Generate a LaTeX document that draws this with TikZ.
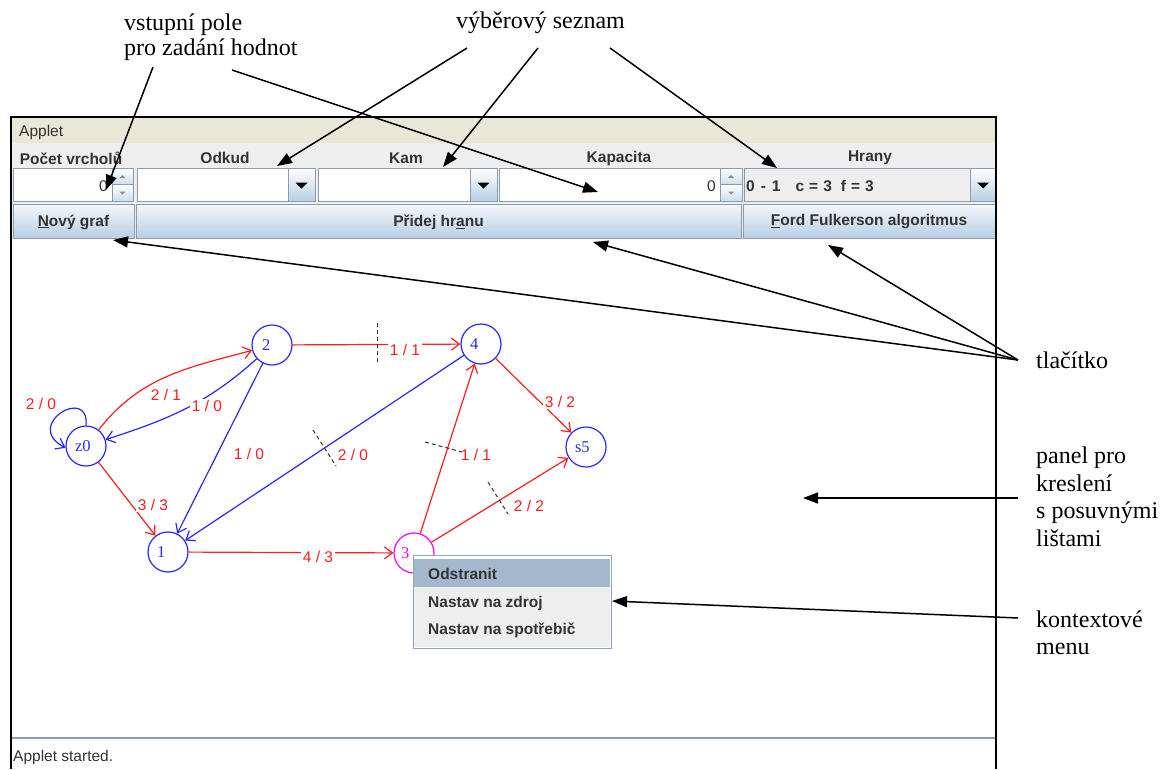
\documentclass[tikz,border=0pt]{standalone}
\usepackage{fontspec}
\setmainfont{Liberation Serif}
\setsansfont{Liberation Sans}
\usetikzlibrary{arrows.meta,calc}
\definecolor{guitext}{HTML}{333333}
\definecolor{titlebg}{RGB}{233,231,214}
\definecolor{rowbg}{HTML}{EEEEEE}
\definecolor{fieldborder}{HTML}{8C9CAE}
\definecolor{btnbot}{HTML}{B8CFE5}
\definecolor{btntop}{HTML}{F4F8FC}
\definecolor{menuhl}{HTML}{A3B8CC}
\definecolor{menuborder}{HTML}{8DA6C8}
\definecolor{gred}{RGB}{255,30,30}
\definecolor{gblue}{RGB}{40,40,255}
\definecolor{gmag}{RGB}{255,0,255}
\definecolor{sgray}{HTML}{8A8A8A}
\tikzset{
  gnode/.style={circle, draw=gblue, line width=1.2pt, minimum size=40pt, inner sep=0pt, text=gblue, font=\fontsize{16.5}{16.5}\selectfont},
  glab/.style={fill=white, inner sep=1.5pt, text=gred, font=\sffamily\fontsize{15.5}{15.5}\selectfont},
  redge/.style={draw=gred, line width=1.2pt, -{Straight Barb[length=8pt,width=12pt]}},
  bedge/.style={draw=gblue, line width=1.2pt, -{Straight Barb[length=8pt,width=12pt]}},
  cutmark/.style={draw=black!80, dash pattern=on 4pt off 3pt, line width=1pt},
  annot/.style={draw=black, line width=1.5pt, -{Triangle[length=15pt,width=11pt]}},
  anntext/.style={font=\fontsize{24}{27}\selectfont, inner sep=0pt, anchor=base west},
  guilab/.style={font=\sffamily\bfseries\fontsize{15.5}{18}\selectfont, text=guitext, inner sep=0pt},
  guireg/.style={font=\sffamily\fontsize{15.5}{18}\selectfont, text=guitext, inner sep=0pt},
  field/.style={draw=fieldborder, fill=white, line width=1pt},
  cbtn/.style={draw=fieldborder, line width=1pt, top color=white, bottom color=btnbot},
  sbtn/.style={draw=fieldborder, line width=0.8pt, top color=white, bottom color=btnbot!70},
  btn/.style={draw=fieldborder, line width=1pt, top color=btntop, bottom color=btnbot},
}
\newcommand\cbtri[1]{\fill[black] ($(#1)+(-6,-2.5)$) -- ++(12,0) -- ++(-6,6) -- cycle;}
\newcommand\uptri[1]{\fill[sgray] ($(#1)+(-3,1.5)$) -- ++(6,0) -- ++(-3,-3) -- cycle;}
\newcommand\dntri[1]{\fill[sgray] ($(#1)+(-3,-1.5)$) -- ++(6,0) -- ++(-3,3) -- cycle;}
\begin{document}
\begin{tikzpicture}[x=1pt,y=-1pt]
\useasboundingbox (0,0) rectangle (1168,769);
\fill[white] (0,0) rectangle (1168,769);
% ---------------- applet window ----------------
\fill[titlebg] (12,118) rectangle (995,143);
\fill[rowbg] (12,143) rectangle (995,239);
\fill[white] (12,239) rectangle (995,769);
\node[guireg, anchor=west] (title) at (19,132) {Applet};
% header labels
\node[guilab] (hPocet) at (71,158) {Počet vrcholů};
\node[guilab] (hOdkud) at (225,158) {Odkud};
\node[guilab] (hKam) at (406,158) {Kam};
\node[guilab] (hKap) at (619,158) {Kapacita};
\node[guilab] (hHrany) at (870,158) {Hrany};
% input row
\draw[field] (13,168.5) rectangle (112,201);
\draw[sbtn] (112,168.5) rectangle (133,184.5);
\draw[sbtn] (112,184.5) rectangle (133,201);
\uptri{122.5,176.5}
\dntri{122.5,193}
\node[guireg, anchor=east] (vPocet) at (108,186) {0};
\draw[field] (137,168.5) rectangle (288,201);
\draw[cbtn] (288,168.5) rectangle (315,201);
\cbtri{301.5,185}
\draw[field] (318,168.5) rectangle (470,201);
\draw[cbtn] (470,168.5) rectangle (497,201);
\cbtri{483.5,185}
\draw[field] (499,168.5) rectangle (720,201);
\draw[sbtn] (720,168.5) rectangle (742,184.5);
\draw[sbtn] (720,184.5) rectangle (742,201);
\uptri{731,176.5}
\dntri{731,193}
\node[guireg, anchor=east] (vKap) at (716,186) {0};
\draw[field, fill=rowbg] (744,168.5) rectangle (970,201);
\draw[cbtn] (970,168.5) rectangle (995,201);
\cbtri{983,185}
\node[guilab, anchor=west] (hrText) at (746,186) {0\hspace{6pt}-\hspace{6pt}1\hspace{15pt}c\hspace{5pt}=\hspace{5pt}3\hspace{9pt}f\hspace{5pt}=\hspace{5pt}3};
% buttons row
\draw[btn] (13,204) rectangle (134,238);
\draw[btn] (136,204) rectangle (741,238);
\draw[btn] (743,204) rectangle (995,238);
\node[guilab] (bNovy) at (73.5,222) {\underline{N}ový graf};
\node[guilab] (bHrana) at (438.5,222) {Přidej hr\underline{a}nu};
\node[guilab] (bFord) at (869,222) {\underline{F}ord Fulkerson algoritmus};
% status bar
\draw[fieldborder, line width=1.2pt] (12,738) -- (995,738);
\node[guireg, anchor=west] (status) at (13,757) {Applet started.};
% frame
\draw[black, line width=2pt] (11,769) -- (11,117) -- (996,117) -- (996,769);
% ---------------- graph ----------------
\node[gnode] (z0) at (86,446) {\makebox[0pt][l]{\kern-11pt z0}};
\node[gnode] (n2) at (272,345) {\makebox[0pt][l]{\kern-10pt 2}};
\node[gnode] (n4) at (481,344) {\makebox[0pt][l]{\kern-11pt 4}};
\node[gnode] (s5) at (586,447) {\makebox[0pt][l]{\kern-11pt s5}};
\node[gnode] (n1) at (168,552) {\makebox[0pt][l]{\kern-11pt 1}};
\node[gnode, draw=gmag, text=gmag] (n3) at (414,553) {\makebox[0pt][l]{\kern-13pt 3}};
\draw[redge] (n2) -- (n4);
\draw[redge] (z0) to[out=52,in=195] (n2);
\draw[bedge] (n2) to[out=222,in=18] (z0);
\draw[bedge] (z0.90) .. controls (90,385) and (22,425) .. (z0.185);
\draw[redge] (z0) -- (n1);
\draw[bedge] (n2) -- (n1);
\draw[bedge] (n4) -- (n1);
\draw[redge] (n1) -- (n3);
\draw[redge] (n3) -- (n4);
\draw[redge] (n4) -- (s5);
\draw[redge] (n3) -- (s5);
\node[glab] (l24) at (405,350) {1 / 1};
\node[glab] (lz2) at (166,395) {2 / 1};
\node[glab] (l2z) at (207,406) {1 / 0};
\node[glab] (lzz) at (41,404) {2 / 0};
\node[glab] (lz1) at (153,505) {3 / 3};
\node[glab] (l21) at (249,454) {1 / 0};
\node[glab] (l41) at (353,455) {2 / 0};
\node[glab] (l13) at (318,557) {4 / 3};
\node[glab] (l34) at (476,455) {1 / 1};
\node[glab] (l4s) at (560,402) {3 / 2};
\node[glab] (l3s) at (529,506) {2 / 2};
\draw[cutmark] (377,323) -- (377,362);
\draw[cutmark] (313,430) -- (336,466);
\draw[cutmark] (425,442) -- (462,452);
\draw[cutmark] (488,482) -- (508,514);
% context menu
\draw[menuborder, fill=white, line width=1pt] (413,555) rectangle (611,648);
\fill[rowbg] (414,587) rectangle (610,647);
\fill[menuhl] (414,559) rectangle (610,587);
\node[guilab, anchor=west] (mOdstr) at (428,574) {Odstranit};
\node[guilab, anchor=west] (mZdroj) at (428,603) {Nastav na zdroj};
\node[guilab, anchor=west] (mSpotr) at (428,630) {Nastav na spotřebič};
% ---------------- annotations ----------------
\node[anntext] (tVst) at (124,30) {vstupní pole};
\node[anntext] (tPro) at (124,55) {pro zadání hodnot};
\node[anntext] (tVyb) at (456,28) {výběrový seznam};
\node[anntext] (tTlac) at (1036,368) {tlačítko};
\node[anntext] (tPan1) at (1036,463) {panel pro};
\node[anntext] (tPan2) at (1036,491) {kreslení};
\node[anntext] (tPan3) at (1036,518) {s posuvnými};
\node[anntext] (tPan4) at (1036,546) {lištami};
\node[anntext] (tKon1) at (1036,627) {kontextové};
\node[anntext] (tKon2) at (1036,654) {menu};
\coordinate (sVst) at (153,67);
\coordinate (sPro) at (232,70);
\coordinate (sV1) at (467,48);
\coordinate (sV2) at (538,48);
\coordinate (sV3) at (610,48);
\coordinate (sTl) at (1018,360);
\coordinate (sPan) at (1018,498);
\coordinate (sKon) at (1018,618);
\coordinate (tSpin) at (106,190);
\coordinate (tKapF) at (598,192);
\coordinate (tOdk) at (277,166);
\coordinate (tKam) at (443,167);
\coordinate (tHr) at (777,168);
\coordinate (tNovy) at (113,240);
\coordinate (tPrid) at (593,242);
\coordinate (tFord) at (828,245);
\coordinate (tPanel) at (803,498);
\coordinate (tMenu) at (612,601);
\draw[annot] (sVst) -- (tSpin);
\draw[annot] (sPro) -- (tKapF);
\draw[annot] (sV1) -- (tOdk);
\draw[annot] (sV2) -- (tKam);
\draw[annot] (sV3) -- (tHr);
\draw[annot] (sTl) -- (tNovy);
\draw[annot] (sTl) -- (tPrid);
\draw[annot] (sTl) -- (tFord);
\draw[annot] (sPan) -- (tPanel);
\draw[annot] (sKon) -- (tMenu);
\end{tikzpicture}
\end{document}
